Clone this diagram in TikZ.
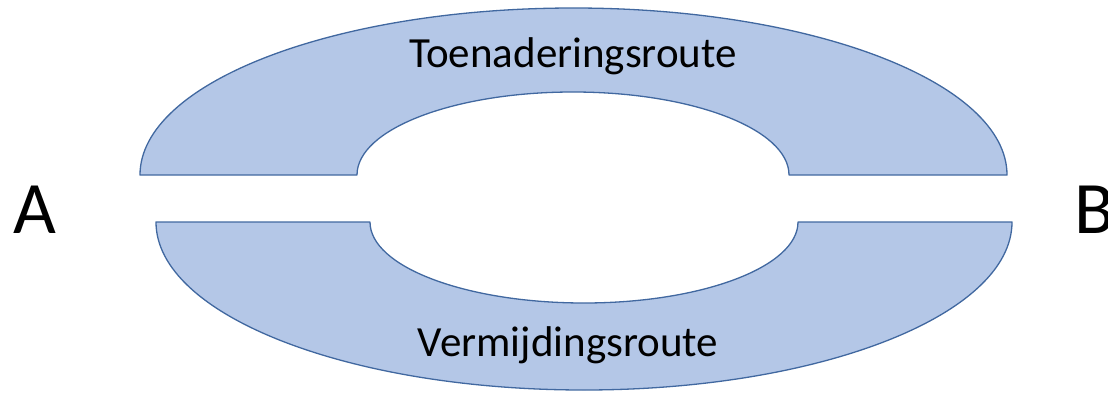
\documentclass[tikz,border=0pt]{standalone}
\usepackage{fontspec}
\setmainfont{Carlito}
\usepackage{tikz}
\definecolor{routefill}{RGB}{180,199,231}
\definecolor{routeline}{RGB}{65,104,160}
\tikzstyle{route} = [fill=routefill, draw=routeline, line width=1.3pt, line join=round]
\tikzstyle{routelabel} = [inner sep=0pt, anchor=base, font=\fontsize{43}{50}\selectfont]
\tikzstyle{endpoint} = [inner sep=0pt, anchor=base west, font=\fontsize{74}{86}\selectfont]

\begin{document}
\begin{tikzpicture}[x=1pt, y=1pt]
        \useasboundingbox (0,0) rectangle (1108,392);
        % upper half ring
        \draw [route] (140,217) arc[start angle=180, end angle=0, x radius=433.5, y radius=167] -- (789,217) arc[start angle=0, end angle=180, x radius=216, y radius=83] -- cycle;
        % lower half ring
        \draw [route] (156,170) arc[start angle=180, end angle=360, x radius=428, y radius=168] -- (798,170) arc[start angle=360, end angle=180, x radius=214, y radius=81] -- cycle;
        
        \node (toenadering) [routelabel] at (573,325) {Toenaderingsroute};
        \node (vermijding) [routelabel] at (568,36) {Vermijdingsroute};
        \node (pointA) [endpoint] at (13,159) {A};
        \node (pointB) [endpoint, right of=pointA, node distance=1060pt] {B};
    \end{tikzpicture}
\end{document}
